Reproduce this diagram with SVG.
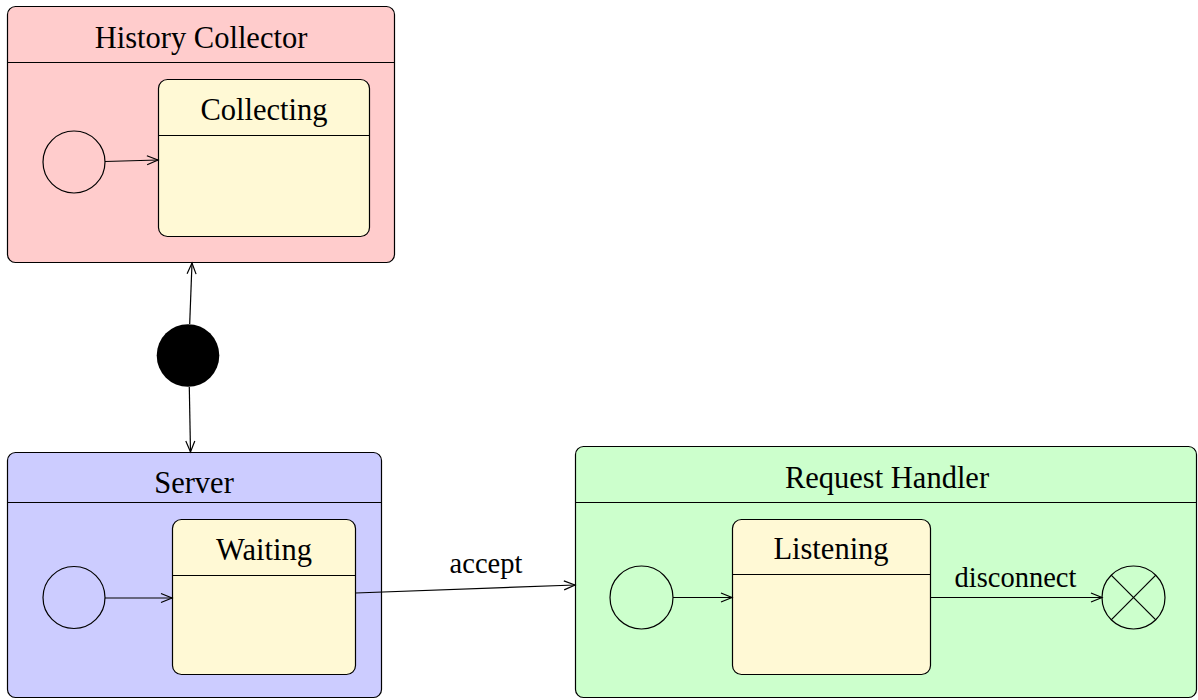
<svg xmlns="http://www.w3.org/2000/svg" width="1198" height="700" viewBox="0 0 1198 700">
<style>
.box{stroke:#000;stroke-width:1.2}
.line{stroke:#000;stroke-width:1.2;fill:none}
.t{font-family:"Liberation Serif","DejaVu Serif",serif;font-size:30.5px;fill:#000;text-anchor:middle}
.lbl{font-family:"Liberation Serif","DejaVu Serif",serif;font-size:28.5px;fill:#000;text-anchor:middle}
.circ{fill:none;stroke:#000;stroke-width:1.2}
.edge{stroke:#000;stroke-width:1.2;fill:none;marker-end:url(#arr)}
</style>
<defs>
<marker id="arr" viewBox="-12 -6 14 12" refX="0" refY="0" markerWidth="14" markerHeight="12" markerUnits="userSpaceOnUse" orient="auto">
<path d="M-11,-4.5 L0,0 L-11,4.5" fill="none" stroke="#000" stroke-width="1.2"/>
</marker>
</defs>
<rect width="1198" height="700" fill="#fff"/>

<g id="history-collector">
<rect class="box" x="7.5" y="6.5" width="387" height="256" rx="8" fill="#ffcccc"/>
<line class="line" x1="7.5" y1="62.5" x2="394.5" y2="62.5"/>
<text class="t" x="201" y="47.5">History Collector</text>
</g>
<g id="hc-initial"><circle class="circ" cx="74" cy="162" r="31"/></g>
<g id="collecting">
<rect class="box" x="158.5" y="79.5" width="211" height="157" rx="9" fill="#fff9d5"/>
<line class="line" x1="158.5" y1="135.5" x2="369.5" y2="135.5"/>
<text class="t" x="264" y="120">Collecting</text>
</g>

<g id="fork"><circle cx="188" cy="355.5" r="31.3" fill="#000"/></g>

<g id="server">
<rect class="box" x="7.5" y="452.5" width="374" height="245" rx="8" fill="#ccccff"/>
<line class="line" x1="7.5" y1="502.5" x2="381.5" y2="502.5"/>
<text class="t" x="194" y="492.5">Server</text>
</g>
<g id="server-initial"><circle class="circ" cx="74" cy="597.5" r="31"/></g>
<g id="waiting">
<rect class="box" x="172.5" y="519.5" width="183" height="155" rx="9" fill="#fff9d5"/>
<line class="line" x1="172.5" y1="575.5" x2="355.5" y2="575.5"/>
<text class="t" x="264" y="560">Waiting</text>
</g>

<g id="request-handler">
<rect class="box" x="575.5" y="446.5" width="621" height="251" rx="8" fill="#ccffcc"/>
<line class="line" x1="575.5" y1="502.5" x2="1196.5" y2="502.5"/>
<text class="t" x="887" y="487.5">Request Handler</text>
</g>
<g id="rh-initial"><circle class="circ" cx="641.5" cy="597.5" r="31.5"/></g>
<g id="listening">
<rect class="box" x="732.5" y="519.5" width="198" height="155" rx="9" fill="#fff9d5"/>
<line class="line" x1="732.5" y1="574.5" x2="930.5" y2="574.5"/>
<text class="t" x="831" y="558.5">Listening</text>
</g>
<g id="rh-final">
<circle class="circ" cx="1133.5" cy="597.5" r="31.5"/>
<line class="line" x1="1111.2" y1="575.2" x2="1155.8" y2="619.8"/>
<line class="line" x1="1155.8" y1="575.2" x2="1111.2" y2="619.8"/>
</g>

<g id="connectors">
<line class="edge" x1="105" y1="161.5" x2="158" y2="160"/>
<line class="edge" x1="189.7" y1="324" x2="192" y2="263"/>
<line class="edge" x1="189.3" y1="387" x2="190.5" y2="452"/>
<line class="edge" x1="105" y1="598" x2="172" y2="598"/>
<line class="edge" x1="355.5" y1="593" x2="575" y2="585"/>
<text class="lbl" x="486" y="573">accept</text>
<line class="edge" x1="673" y1="597.5" x2="732" y2="597.5"/>
<line class="edge" x1="930.5" y1="597.5" x2="1102" y2="597.5"/>
<text class="lbl" x="1015.5" y="586.5">disconnect</text>
</g>
</svg>
